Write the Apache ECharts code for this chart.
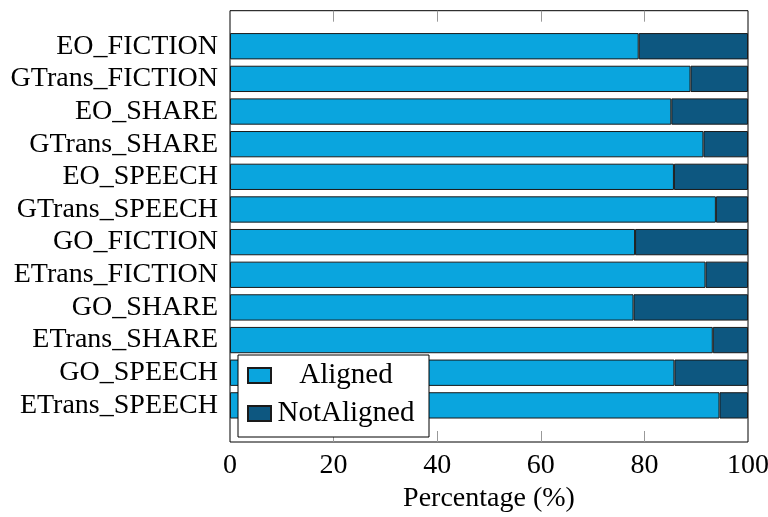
<!DOCTYPE html>
<html>
<head>
<meta charset="utf-8">
<script src="https://cdn.jsdelivr.net/npm/echarts@6/dist/echarts.min.js"></script>
<style>html,body{margin:0;padding:0;background:#fff}#c{width:768px;height:517px}</style>
</head>
<body>
<div id="c"></div>
<script>
const categories = ["EO_FICTION","GTrans_FICTION","EO_SHARE","GTrans_SHARE","EO_SPEECH","GTrans_SPEECH","GO_FICTION","ETrans_FICTION","GO_SHARE","ETrans_SHARE","GO_SPEECH","ETrans_SPEECH"];
const aligned    = [78.9, 88.9, 85.2, 91.4, 85.7, 93.8, 78.2, 91.8, 77.9, 93.2, 85.8, 94.5];
const notAligned = [21.1, 11.1, 14.8,  8.6, 14.3,  6.2, 21.8,  8.2, 22.1,  6.8, 14.2,  5.5];
const xTicks = [0, 20, 40, 60, 80, 100];

const FONT = "Liberation Serif";
const chart = echarts.init(document.getElementById('c'), null, {renderer:'canvas'});
chart.setOption({
  animation: false,
  backgroundColor: '#fff',
  textStyle: {fontFamily: FONT, color: '#000'},
  grid: [
    {left: 230, right: 20, top: 10.7, bottom: 75, show: true, borderColor: '#000', borderWidth: 1, backgroundColor: 'transparent', outerBoundsMode: 'none', containLabel: false},
    {left: 230, right: 20, top: 29.9, bottom: 95.3, outerBoundsMode: 'none', containLabel: false}
  ],
  xAxis: [
    {type: 'value', gridIndex: 0, position: 'bottom', min: 0, max: 100, interval: 20,
     axisLine: {show: false}, splitLine: {show: false},
     axisTick: {show: true, inside: true, length: 11, lineStyle: {color: '#999', width: 1}, customValues: [20,40,60,80]},
     axisLabel: {fontFamily: FONT, fontSize: 28, color: '#000', margin: 10, customValues: xTicks},
     name: 'Percentage (%)', nameLocation: 'middle', nameGap: 43,
     nameTextStyle: {fontFamily: FONT, fontSize: 28, color: '#000'}},
    {type: 'value', gridIndex: 0, position: 'top', min: 0, max: 100, interval: 20,
     axisLine: {show: false}, splitLine: {show: false}, axisLabel: {show: false},
     axisTick: {show: true, inside: true, length: 11, lineStyle: {color: '#999', width: 1}, customValues: [20,40,60,80]}},
    {type: 'value', gridIndex: 1, min: 0, max: 100, show: false}
  ],
  yAxis: [
    {type: 'value', gridIndex: 0, min: 0, max: 1, show: false},
    {type: 'category', gridIndex: 1, data: categories, inverse: true,
     axisLine: {show: false}, axisTick: {show: false}, splitLine: {show: false},
     axisLabel: {fontFamily: FONT, fontSize: 28, color: '#000', margin: 12, interval: 0}}
  ],
  legend: {
    orient: 'vertical', left: 238, top: 355,
    padding: [6, 13, 9, 9], itemGap: 9, itemWidth: 23, itemHeight: 15, itemTextGap: 2,
    backgroundColor: '#fff', borderColor: '#000', borderWidth: 1, borderRadius: 0,
    icon: 'rect',
    data: ['Aligned', 'NotAligned'],
    formatter: '{t|{name}}',
    textStyle: {fontFamily: FONT, fontSize: 29, color: '#000',
      rich: {t: {fontFamily: FONT, fontSize: 29, width: 140, align: 'center', lineHeight: 28}}}
  },
  series: [
    {name: 'Aligned', type: 'bar', stack: 's', xAxisIndex: 2, yAxisIndex: 1, data: aligned,
     barWidth: 26.3, itemStyle: {color: '#0aa5de', borderColor: '#1a1a1a', borderWidth: 1}},
    {name: 'NotAligned', type: 'bar', stack: 's', xAxisIndex: 2, yAxisIndex: 1, data: notAligned,
     barWidth: 26.3, itemStyle: {color: '#0d5780', borderColor: '#1a1a1a', borderWidth: 1}}
  ]
});
</script>
</body>
</html>
